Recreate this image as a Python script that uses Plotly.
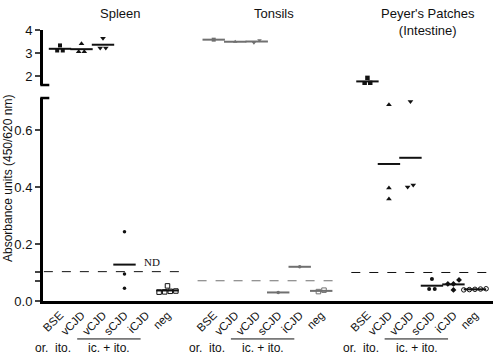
import plotly.graph_objects as go

# ---------------- data ----------------
tissues = ["Spleen", "Tonsils", "Peyer's Patches<br>(Intestine)"]
categories = ["BSE", "vCJD", "vCJD", "sCJD", "iCJD", "neg"]
routes = ["or.", "ito.", "ic. + ito."]

spleen = [[3.33, 3.11, 3.11], [3.40, 3.05, 3.05], [3.64, 3.22, 3.22],
          [0.243, 0.095, 0.045], [], [0.053, 0.034, 0.032, 0.031, 0.035]]
tonsils = [[3.58], [3.49], [3.45, 3.55], [0.030], [0.120], [0.033, 0.038]]
peyers = [[1.92, 1.70, 1.68], [0.688, 0.396, 0.358], [0.700, 0.407, 0.400],
          [0.077, 0.042, 0.042], [0.074, 0.060, 0.060, 0.039],
          [0.043, 0.040, 0.041, 0.039, 0.042]]
cutoffs = [0.103, 0.071, 0.100]
not_done = [(0, 4)]  # (tissue, category) -> "ND"

all_values = [spleen, tonsils, peyers]

# ---------------- styling ----------------
FONT = "Liberation Sans, Arial, sans-serif"
colors = ["#111111", "#707070", "#111111"]
symbols = [
    ["square", "triangle-up", "triangle-down", "circle", "circle", "square-open"],
    ["square", "triangle-up", "triangle-down", "circle", "circle", "square-open"],
    ["square", "triangle-up", "triangle-down", "circle", "diamond", "circle-open"],
]
sizes = [[4, 5, 5, 3.5, 3.5, 4.5], [4, 4, 4, 3.5, 3.5, 4.5], [4.5, 5, 5, 4, 4.5, 4.5]]
GROUP_STEP = 7.15
BREAK = 1.0           # values above this go to the upper panel
LOW_RANGE = [0, 0.712]
HIGH_RANGE = [1.61, 4.0]
PX_LOW, PX_HIGH = 285.0, 23.0   # px per unit in each panel


def spread(vals):
    """GraphPad-like horizontal spread of points with nearly equal values."""
    if not vals:
        return []
    scale = [PX_HIGH if v > BREAK else PX_LOW for v in vals]
    order = sorted(range(len(vals)), key=lambda i: vals[i])
    groups, cur = [], [order[0]]
    for a, b in zip(order, order[1:]):
        if abs(vals[b] * scale[b] - vals[a] * scale[a]) < 4:
            cur.append(b)
        else:
            groups.append(cur)
            cur = [b]
    groups.append(cur)
    off = [0.0] * len(vals)
    for g in groups:
        n = len(g)
        for k, i in enumerate(g):
            off[i] = (k - (n - 1) / 2) * 0.26
    return off


fig = go.Figure()
small = dict(family=FONT, size=12, color="#111")

tickvals, ticktext = [], []
for t, data in enumerate(all_values):
    gx = t * GROUP_STEP
    col = colors[t]
    for c, vals in enumerate(data):
        pos = gx + c
        tickvals.append(pos)
        ticktext.append(categories[c])
        if not vals:
            continue
        offs = spread(vals)
        for panel, cond in (("y", lambda v: v <= BREAK), ("y2", lambda v: v > BREAK)):
            xs = [pos + o for v, o in zip(vals, offs) if cond(v)]
            ys = [v for v in vals if cond(v)]
            if xs:
                sym = symbols[t][c]
                fig.add_trace(go.Scatter(
                    x=xs, y=ys, yaxis=panel, mode="markers",
                    marker=dict(symbol=sym, size=sizes[t][c], color=col,
                                line=dict(color=col, width=1 if "open" in sym else 0)),
                    showlegend=False, hoverinfo="skip"))
        mean = sum(vals) / len(vals)
        fig.add_trace(go.Scatter(
            x=[pos], y=[mean], yaxis="y2" if mean > BREAK else "y", mode="markers",
            marker=dict(symbol="line-ew", size=16, color=col,
                        line=dict(color=col, width=2)),
            showlegend=False, hoverinfo="skip"))
    # cutoff (dashed)
    x0 = max(gx - 0.75, -0.79)
    fig.add_trace(go.Scatter(
        x=[x0, gx + 5.6], y=[cutoffs[t], cutoffs[t]], yaxis="y", mode="lines",
        line=dict(color=col, width=1, dash="dash"),
        showlegend=False, hoverinfo="skip"))
    # tissue titles
    fig.add_annotation(x=gx + 2.8, xref="x", y=1, yref="paper", yshift=26,
                       yanchor="top", text=tissues[t], showarrow=False,
                       font=dict(family=FONT, size=13, color="#111"))
    # route labels
    fig.add_annotation(x=gx, xref="x", xshift=-18, y=0, yref="paper", yshift=-47,
                       yanchor="middle", text=routes[0], showarrow=False, font=small)
    fig.add_annotation(x=gx + 1, xref="x", xshift=-18, y=0, yref="paper", yshift=-47,
                       yanchor="middle", text=routes[1], showarrow=False, font=small)
    fig.add_annotation(x=gx + 3, xref="x", xshift=-15, y=0, yref="paper", yshift=-47,
                       yanchor="middle", text=routes[2], showarrow=False, font=small)
    fig.add_shape(type="line", xref="x", yref="paper",
                  x0=gx + 2 - 1.2, x1=gx + 4 - 0.25, y0=-0.14, y1=-0.14,
                  line=dict(color="#111", width=1))

for t, c in not_done:
    fig.add_annotation(x=t * GROUP_STEP + c + 0.3, xref="x", y=0.137, yref="y",
                       text="ND", showarrow=False,
                       font=dict(family="Liberation Serif, Times New Roman, serif",
                                 size=11, color="#111"))

# axis break caps
for yr in ("y2 domain", "y domain"):
    yy = 0 if yr.startswith("y2") else 1
    fig.add_shape(type="line", xref="paper", yref=yr, x0=-0.006, x1=0.014,
                  y0=yy, y1=yy, line=dict(color="black", width=2.5))

# y title
fig.add_annotation(text="Absorbance units (450/620 nm)", textangle=-90,
                   xref="paper", x=0, xanchor="center", xshift=-35,
                   yref="paper", y=0.45, yanchor="middle",
                   showarrow=False, font=dict(family=FONT, size=12, color="#111"))

low_tickvals = [0, 0.2, 0.4, 0.6] + [cutoffs[0], cutoffs[1]]
low_ticktext = ["0.0", "0.2", "0.4", "0.6", "", ""]

fig.update_layout(
    width=500, height=355,
    margin=dict(l=43, r=7, t=30, b=54, autoexpand=False),
    paper_bgcolor="white", plot_bgcolor="white",
    font=dict(family=FONT, color="#111"),
    xaxis=dict(range=[-0.79, 20.14], tickvals=tickvals, ticktext=ticktext,
               tickangle=-45, ticks="", showline=True, linewidth=3,
               linecolor="black", showgrid=False, zeroline=False, automargin=False,
               tickfont=dict(family=FONT, size=11.5, color="#111"), anchor="y"),
    yaxis=dict(domain=[0, 0.749], range=LOW_RANGE, tickvals=low_tickvals,
               ticktext=low_ticktext, ticks="outside", ticklen=5, tickwidth=2,
               showline=True, linewidth=3, linecolor="black", showgrid=False,
               zeroline=False, automargin=False,
               tickfont=dict(family=FONT, size=13, color="#111"), anchor="x"),
    yaxis2=dict(domain=[0.797, 1], range=HIGH_RANGE, tickvals=[2, 3, 4],
                ticks="outside", ticklen=5, tickwidth=2, showline=True,
                linewidth=3, linecolor="black", showgrid=False, zeroline=False,
                automargin=False,
                tickfont=dict(family=FONT, size=13, color="#111"), anchor="x"),
    showlegend=False,
)

fig.write_html("out.html", config={"displayModeBar": False},
               post_script="document.body.style.margin='0';document.body.style.padding='0';")
